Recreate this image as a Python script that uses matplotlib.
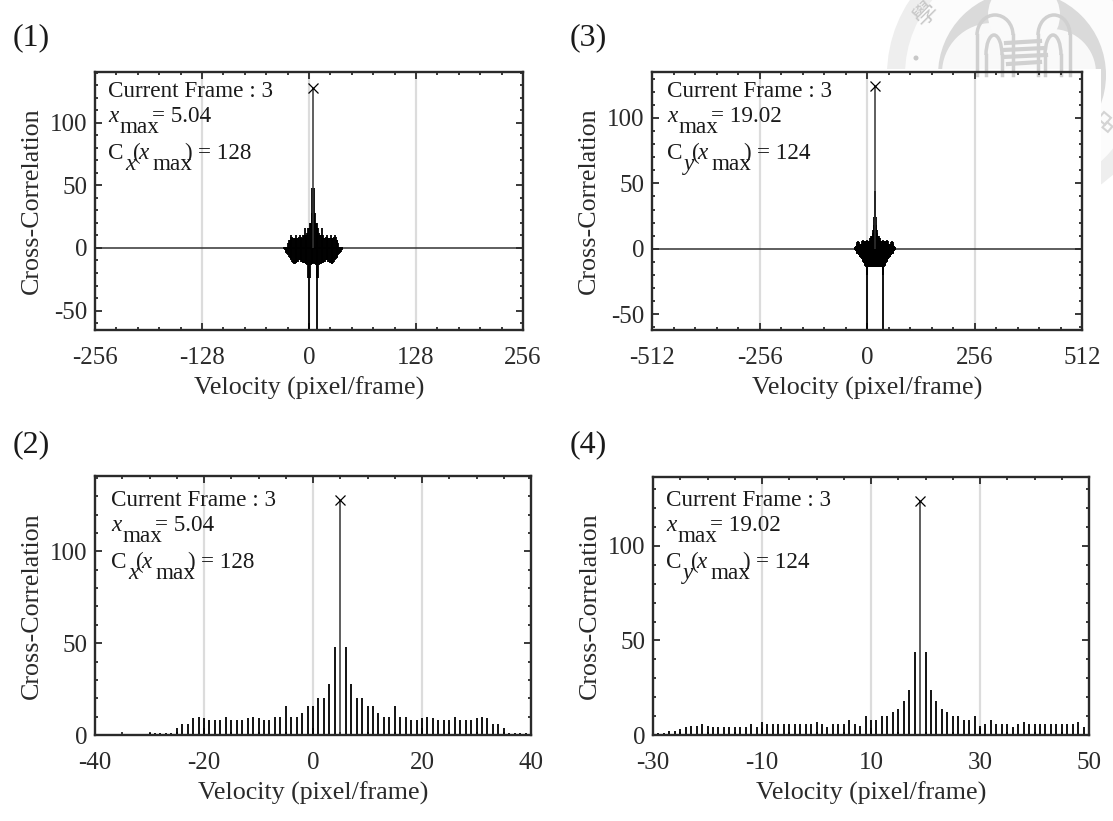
import matplotlib
matplotlib.use("Agg")
import matplotlib.pyplot as plt
from matplotlib.patches import Circle, Rectangle, Arc
from matplotlib.ticker import AutoMinorLocator

W, H = 1113, 821
plt.rcParams["font.family"] = ["Liberation Serif", "Noto Sans CJK TC"]
plt.rcParams["axes.unicode_minus"] = False

# lags and correlation samples
lags_x = list(range(-30, 41))
vals_x = [1, 1, 1, 1, 1, 4, 6, 6, 9, 10, 9, 8, 8, 8, 10, 8, 8, 8, 9, 10, 9, 8, 8, 10, 10,
          16, 10, 10, 12, 16, 16, 20, 20, 28, 48, 128, 48, 28, 20, 20, 16, 16, 12, 10, 10,
          16, 10, 10, 8, 8, 9, 10, 9, 8, 8, 8, 10, 8, 8, 8, 9, 10, 9, 6, 6, 4, 1, 1, 1, 1, 1]
neg_x = [-1, -2, -3, -4, -5, -6, -7, -8, -9, -10, -11, -12, -13, -13, -12, -12, -11, -11,
         -10, -10, -10, -11, -11, -12, -12, -12, -13, -13, -14, -24, -70, -24, -14, -13, -13,
         -12, -13, -13, -14, -24, -70, -24, -14, -13, -13, -12, -12, -12, -11, -11, -10, -10,
         -10, -11, -11, -12, -12, -13, -13, -12, -11, -10, -9, -8, -7, -6, -5, -4, -3, -2, -1]
lags_y = list(range(-29, 68))
vals_y = [1, 1, 2, 2, 3, 4, 5, 5, 6, 5, 4, 4, 4, 4, 4, 4, 4, 6, 4, 7, 6, 6, 6, 6, 6, 6, 6, 6,
          6, 7, 6, 4, 6, 6, 6, 8, 6, 5, 10, 8, 8, 10, 10, 12, 14, 18, 24, 44, 124, 44, 24, 18,
          14, 12, 10, 10, 8, 8, 10, 5, 6, 8, 6, 6, 6, 4, 6, 7, 6, 6, 6, 6, 6, 6, 6, 6, 6, 7, 4,
          6, 4, 4, 4, 4, 4, 4, 4, 5, 6, 5, 5, 4, 3, 2, 2, 1, 1]
neg_y = [-1, -1, -2, -2, -3, -3, -4, -4, -4, -5, -5, -5, -6, -6, -6, -7, -7, -8, -8, -9, -10,
         -10, -11, -11, -12, -13, -13, -14, -20, -70, -20, -14, -13, -14, -14, -13, -14, -14,
         -14, -13, -14, -14, -13, -14, -14, -13, -14, -14, -13, -14, -14, -13, -14, -14, -13,
         -14, -14, -13, -14, -14, -13, -14, -14, -13, -14, -14, -20, -70, -20, -14, -13, -13,
         -12, -11, -11, -10, -10, -9, -8, -8, -7, -7, -6, -6, -6, -5, -5, -5, -4, -4, -4, -3,
         -3, -2, -2, -1, -1]

peak_x, peak_cx = 5.04, 128
peak_y, peak_cy = 19.02, 124
xticks_1 = [-256, -128, 0, 128, 256]
xticks_2 = [-40, -20, 0, 20, 40]
xticks_3 = [-512, -256, 0, 256, 512]
xticks_4 = [-30, -10, 10, 30, 50]


def ax_at(fig, left, top, right, bottom):
    return fig.add_axes([left / W, 1 - bottom / H, (right - left) / W, (bottom - top) / H])


def txt(fig, px, py, s, size=16.7, **kw):
    fig.text(px / W, 1 - py / H, s, fontsize=size, color="#1a1a1a", va="baseline", **kw)


def style(ax, xlim, ylim, xticks, yticks):
    ax.set_xlim(*xlim)
    ax.set_ylim(*ylim)
    ax.set_xticks(xticks)
    ax.set_yticks(yticks)
    for v in xticks[1:-1]:
        ax.axvline(v, color="#dcdcdc", lw=1.6, zorder=0)
    ax.xaxis.set_minor_locator(AutoMinorLocator(5 if xlim[1] > 100 else 4))
    ax.yaxis.set_minor_locator(AutoMinorLocator(5))
    ax.tick_params(which="major", direction="in", length=5, width=1.3, top=True, right=True,
                   labelsize=18, colors="#2a2a2a")
    ax.tick_params(which="minor", direction="in", length=2.5, width=1.3, top=True, right=True,
                   colors="#2a2a2a")
    ax.tick_params(axis="x", which="major", pad=12)
    ax.tick_params(axis="y", which="major", pad=5.5)
    for s in ax.spines.values():
        s.set_linewidth(1.7)
        s.set_color("#2a2a2a")
    ax.set_xlabel("Velocity (pixel/frame)", fontsize=18.7, color="#2a2a2a", labelpad=6)
    ax.set_ylabel("Cross-Correlation", fontsize=18.7, color="#2a2a2a", labelpad=5)
    ax.patch.set_alpha(0)


def stems(ax, lags, vals, peak, peak_val):
    low = [v for v in vals if v != max(vals)]
    ax.vlines([l for l, v in zip(lags, vals) if v != max(vals)], 0, low, color="black", lw=1.3)
    ax.vlines([lags[vals.index(max(vals))]], 0, [max(vals)], color="#333333", lw=1.1)
    ax.plot([peak], [peak_val], "x", color="black", ms=6.5, mew=0.9)


fig = plt.figure(figsize=(W / 100, H / 100), dpi=100)
fig.patch.set_facecolor("white")

# watermark seal behind the panels
bg = fig.add_axes([0, 0, 1, 1], zorder=-5)
bg.set_xlim(0, W)
bg.set_ylim(H, 0)
bg.axis("off")
seal = "#d0d0d0"
cx0, cy0 = 1022, 75
bg.add_patch(Circle((cx0, cy0), 135, fc="#eeeeee", ec="none"))
bg.add_patch(Circle((cx0, cy0), 117, fc="#fcfcfc", ec="none"))
bg.add_patch(Circle((cx0, cy0), 84, fc="#dadada", ec="none"))
bg.add_patch(Circle((cx0 - 30, cy0 - 2), 50, fc="#f9f9f9", ec="none"))
bg.add_patch(Circle((cx0 + 30, cy0 - 2), 44, fc="#f9f9f9", ec="none"))
bg.add_patch(Circle((cx0 + 2, cy0 - 60), 36, fc="#fafafa", ec="none"))
for cx, w, top in [(995, 36, 15), (1054, 32, 15), (994, 16, 35), (1053, 16, 35)]:
    bg.add_patch(Arc((cx, top + 20), w, 40, theta1=180, theta2=360, color=seal, lw=2.5))
    bg.plot([cx - w / 2, cx - w / 2], [top + 20, 75], color=seal, lw=2.5)
    bg.plot([cx + w / 2, cx + w / 2], [top + 20, 75], color=seal, lw=2.5)
for y, x1, x2 in [(42, 1006, 1040), (49, 1003, 1045), (56, 1003, 1046), (63, 1008, 1040)]:
    bg.plot([x1, x2], [y + 1, y - 1], color=seal, lw=3)
bg.add_patch(Circle((916, 58), 2.5, fc="#c8c8c8", ec="none"))
bg.text(927, 14, "學", fontsize=17, color="#c8c8c8", rotation=45, ha="center", va="center")
bg.add_patch(Rectangle((1104, 112), 9, 9, angle=40, fc="none", ec="#d4d4d4", lw=1.5))
bg.add_patch(Rectangle((1107, 122), 7, 7, angle=40, fc="none", ec="#d4d4d4", lw=1.5))
bg.add_patch(Rectangle((0, 69), 1101, H, fc="white", ec="none"))

ax1 = ax_at(fig, 95, 72, 523, 330)
ax2 = ax_at(fig, 95, 476, 531, 735)
ax3 = ax_at(fig, 652, 72, 1082, 330)
ax4 = ax_at(fig, 653, 477, 1089, 735)

ax1.axhline(0, color="#333333", lw=1.1, zorder=1)
ax1.vlines(lags_x, neg_x, 0, color="black", lw=1.3)
stems(ax1, lags_x, vals_x, peak_x, peak_cx)
style(ax1, (-256, 256), (-65.5, 140.5), xticks_1, [-50, 0, 50, 100])

stems(ax2, lags_x, vals_x, peak_x, peak_cx)
style(ax2, (-40, 40), (0, 141), xticks_2, [0, 50, 100])

ax3.axhline(0, color="#333333", lw=1.1, zorder=1)
ax3.vlines(lags_y, neg_y, 0, color="black", lw=1.3)
stems(ax3, lags_y, vals_y, peak_y, peak_cy)
style(ax3, (-512, 512), (-62, 135), xticks_3, [-50, 0, 50, 100])

stems(ax4, lags_y, vals_y, peak_y, peak_cy)
style(ax4, (-30, 50), (0, 136.5), xticks_4, [0, 50, 100])

# panel tags
for tag, px, py in [("(1)", 13, 45), ("(3)", 570, 45), ("(2)", 13, 452), ("(4)", 570, 452)]:
    txt(fig, px, py, tag, size=23)

# annotations, pieced so the subscripts stay as large as in the reference
for ox, oy, xval, sym, cval in [(108, 97, "5.04", "x", "128"), (667, 97, "19.02", "y", "124"),
                                (111, 506, "5.04", "x", "128"), (666, 506, "19.02", "y", "124")]:
    txt(fig, ox, oy, "Current Frame : 3")
    txt(fig, ox, oy + 25, "x", style="italic")
    txt(fig, ox + 11, oy + 36, "max")
    txt(fig, ox + 44, oy + 25, "= " + xval)
    txt(fig, ox, oy + 62, "C")
    txt(fig, ox + 17, oy + 73, sym, style="italic")
    txt(fig, ox + 25, oy + 62, "(")
    txt(fig, ox + 30, oy + 62, "x", style="italic")
    txt(fig, ox + 44, oy + 73, "max")
    txt(fig, ox + 76, oy + 62, ")")
    txt(fig, ox + 90, oy + 62, "= " + cval)

fig.savefig("out.png", dpi=100)
